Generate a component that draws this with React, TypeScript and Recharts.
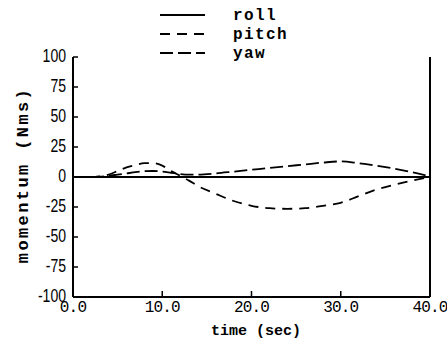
import React from 'react';
import { LineChart, Line, XAxis, YAxis, Legend } from 'recharts';

const timeSec = [0, 2, 3, 4, 5, 6, 7, 8, 9, 10, 11, 12, 13, 14, 16, 18, 20, 22, 24, 26, 28, 30, 32, 34, 36, 38, 40];
const rollNms = [0, 0, 0, 0, 0, 0, 0, 0, 0, 0, 0, 0, 0, 0, 0, 0, 0, 0, 0, 0, 0, 0, 0, 0, 0, 0, 0];
const pitchNms = [0, 0, 0.5, 2, 5, 8, 10, 11.5, 11.5, 9.5, 5, 1, -3, -7.5, -14, -20, -24, -26, -26.5, -26, -24, -21.5, -16, -10.5, -6.5, -3, 0];
const yawNms = [0, 0, 0.3, 1, 2, 3, 4, 4.8, 5, 4.5, 3.5, 2.5, 2, 2, 3, 4.5, 6, 7.5, 9, 10.5, 12, 13, 11.5, 9.5, 7, 4, 0.5];

const seriesNames = ['roll', 'pitch', 'yaw'];
const xTicks = [0, 10, 20, 30, 40];
const yTicks = [-100, -75, -50, -25, 0, 25, 50, 75, 100];

const data = timeSec.map((t, i) => ({ t, roll: rollNms[i], pitch: pitchNms[i], yaw: yawNms[i] }));

const monoFont = '"Liberation Mono", "DejaVu Sans Mono", monospace';
const sansFont = '"Liberation Sans", Arial, sans-serif';

// legend drawn as an svg block: sample line then the name, in series order
const renderLegend = (props: any) => {
  const items = [...(props.payload || [])].sort(
    (a: any, b: any) => seriesNames.indexOf(a.value) - seriesNames.indexOf(b.value)
  );
  return (
    <svg width={170} height={62}>
      {items.map((entry: any, i: number) => {
        const y = 12 + i * 19;
        return (
          <g key={entry.value}>
            <line x1={5} x2={50} y1={y} y2={y} stroke="#000" strokeWidth={1.8}
              strokeDasharray={entry.payload?.strokeDasharray} />
            <text x={78} y={y + 5} fontFamily={monoFont} fontSize={16} letterSpacing={1.4}
              fontWeight="bold" fill="#000">{entry.value}</text>
          </g>
        );
      })}
    </svg>
  );
};

// condensed sans labels for the y axis
const NarrowTick = (props: any) => {
  const { x, y, payload } = props;
  return (
    <text x={x} y={y} dy={5} textAnchor="end" fontFamily={sansFont} fontSize={18} fill="#000"
      transform={`translate(${x},0) scale(0.78,1) translate(${-x},0)`}>
      {payload.value}
    </text>
  );
};

const App: React.FC = () => {
  return (
    <div style={{ position: 'absolute', left: 0, top: 0, width: 447, height: 341, background: '#fff' }}>
      <LineChart width={447} height={341} data={data} margin={{ top: 57, right: 0, left: 0, bottom: 0 }}>
        <XAxis dataKey="t" type="number" domain={[0, 40]} ticks={xTicks} height={44}
          tickFormatter={(v) => v.toFixed(1)} axisLine={{ stroke: '#000', strokeWidth: 2 }}
          tickLine={{ stroke: '#000', strokeWidth: 1.5 }} tickSize={-6} tickMargin={10}
          tick={{ fill: '#000', fontFamily: monoFont, fontSize: 16, letterSpacing: -0.8 }} />
        <YAxis type="number" domain={[-100, 100]} ticks={yTicks} width={73} interval={0}
          axisLine={{ stroke: '#000', strokeWidth: 2 }} tickLine={{ stroke: '#000', strokeWidth: 1.5 }}
          tickSize={-5} tickMargin={12} tick={<NarrowTick />} />
        <YAxis yAxisId="r" orientation="right" type="number" domain={[-100, 100]} ticks={yTicks} width={17}
          interval={0} tickFormatter={() => ''} axisLine={{ stroke: '#000', strokeWidth: 2 }}
          tickLine={{ stroke: '#000', strokeWidth: 1.5 }} tickSize={-5} />
        <Legend layout="horizontal" verticalAlign="middle" align="center" content={renderLegend}
          wrapperStyle={{ position: 'absolute', top: 3, left: 155, width: 170, height: 62 }} />
        <Line type="monotone" dataKey="roll" name="roll" stroke="#000" strokeWidth={2} dot={false}
          isAnimationActive={false} />
        <Line type="monotone" dataKey="pitch" name="pitch" stroke="#000" strokeWidth={1.8} dot={false}
          strokeDasharray="10 7" isAnimationActive={false} />
        <Line type="monotone" dataKey="yaw" name="yaw" stroke="#000" strokeWidth={1.8} dot={false}
          strokeDasharray="13 5" isAnimationActive={false} />
        <text x={28} y={175} transform="rotate(-90, 28, 175)" textAnchor="middle" fontFamily={monoFont}
          fontSize={17} fontWeight="bold" letterSpacing={2.4} fill="#000">momentum (Nms)</text>
        <text x={256} y={335} textAnchor="middle" fontFamily={monoFont} fontSize={15} fontWeight="bold"
          fill="#000">time (sec)</text>
      </LineChart>
    </div>
  );
};

export default App;
